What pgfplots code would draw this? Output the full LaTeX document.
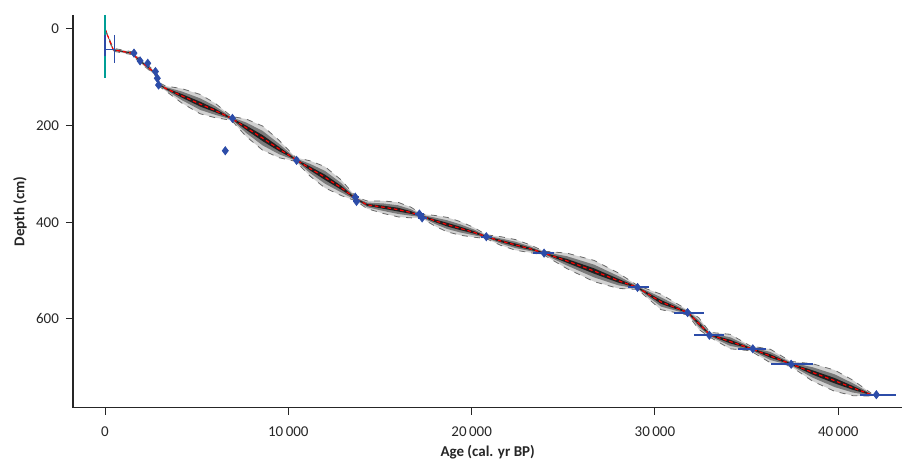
\documentclass[border=0pt]{standalone}
\usepackage{fontspec}
\setmainfont{Carlito}
\usepackage{pgfplots}
\pgfplotsset{compat=1.18}
\usepackage{pgfplotstable}
\usepgfplotslibrary{fillbetween}

\definecolor{datblue}{RGB}{44,76,168}
\definecolor{tealline}{RGB}{0,158,150}
\definecolor{bandgray}{RGB}{105,105,105}

% age-depth model: median depth and outer/mid/inner envelope (cm)
\pgfplotstableread{
age   d     olo    ohi    mlo    mhi    ilo    ihi
0     0     -1     1      -0.6   0.6    -0.3   0.3
450   43    40     46     41.2   44.8   42.2   43.8
1460  50    47     53     48.2   51.8   49.2   50.8
1910  66    62     70     63.6   68.4   65     67
2370  80    76     84     77.6   82.4   79     81
2820  95    91     99     92.6   97.4   94     96
3000  116   112    120    113.6  118.4  115    117
3300  123   118    128    120    126    121.8  124.2
4200  138.5 123.5  153.5  129.5  147.5  134.8  142.2
5190  155.5 135.5  175.5  143.5  167.5  150.5  160.5
6000  168.5 153.5  183.5  159.5  177.5  164.8  172.2
6900  185   181    189    182.6  187.4  184    186
7700  204.4 186.4  222.4  193.6  215.2  199.9  208.9
8600  226   201    251    211    241    219.8  232.2
9500  248.5 230.5  266.5  237.7  259.3  244    253
10400 270   266    274    267.6  272.4  269    271
11200 289   273    305    279.4  298.6  285    293
12000 307   285    329    293.8  320.2  301.5  312.5
12900 329   313    345    319.4  338.6  325    333
13700 352   348    356    349.6  354.4  351    353
14300 364   356    372    359.2  368.8  362    366
15200 369   356    382    361.2  376.8  365.8  372.2
16000 374   359    389    365    383    370.2  377.8
16700 380   369    391    373.4  386.6  377.2  382.8
17250 387   383    391    384.6  389.4  386    388
18000 397   386    408    390.4  403.6  394.2  399.8
18670 405   390    420    396    414    401.2  408.8
19400 413   399    427    404.6  421.4  409.5  416.5
20130 421   411    431    415    427    418.5  423.5
20800 430   426    434    427.6  432.4  429    431
21600 439   430    448    433.6  444.4  436.8  441.2
22400 447   436    458    440.4  453.6  444.2  449.8
23200 455   447    463    450.2  459.8  453    457
23950 464   460    468    461.6  466.4  463    465
25200 480   464    496    470.4  489.6  476    484
26680 501   479    523    487.8  514.2  495.5  506.5
28000 521   505    537    511.4  530.6  517    525
29050 535   531    539    532.6  537.4  534    536
30330 565   549    581    555.4  574.6  561    569
31800 587   582    592    584    590    585.8  588.2
32400 610   598    622    602.8  617.2  607    613
33000 633   628    638    630    636    631.8  634.2
34100 647   632    662    638    656    643.2  650.8
35200 661   656    666    658    664    659.8  662.2
36300 677   663    691    668.6  685.4  673.5  680.5
37400 693   688    698    690    696    691.8  694.2
38600 711   693    729    700.2  721.8  706.5  715.5
39800 728   706    750    714.8  741.2  722.5  733.5
40800 743   727    759    733.4  752.6  739    747
41800 757   754    760    755.2  758.8  756.2  757.8
}\band

% dated levels: age, depth, age errors, depth errors
\pgfplotstableread{
age   d    xm    xp    ym  yp
1580  50   60    60    4   6
1910  66   60    60    5   5
2330  71   60    60    5   5
2750  88   60    60    6   6
2850  102  50    50    6   6
2920  116  50    50    6   6
6950  185  150   150   2   2
6560  252  150   150   0   0
10450 272  150   150   2   2
13650 348  200   200   3   3
13720 357  200   200   3   3
17150 383  250   250   2   2
17300 391  250   250   2   2
20800 430  300   300   1   1
23950 464  580   530   1   1
29050 535  540   640   1   1
31780 587  740   900   1   1
32970 634  840   800   1   1
35340 662  820   730   1   1
37430 694  1090  1190  1   1
42080 757  920   1090  1   1
}\dates

\begin{document}
\begin{tikzpicture}
\begin{axis}[
  scale only axis,
  width=415pt, height=196.5pt,
  xmin=-1750, xmax=43500,
  ymin=-29, ymax=784,
  y dir=reverse,
  axis x line=bottom, axis y line=left,
  axis line style={-, line width=0.6pt, black!85},
  tick align=outside,
  major tick length=3.5pt,
  tick style={line width=0.5pt, black!85},
  xtick={0,10000,20000,30000,40000},
  ytick={0,200,400,600},
  scaled x ticks=false,
  /pgf/number format/assume math mode=true,
  /pgf/number format/1000 sep={\,},
  tick label style={font=\fontsize{7.5}{8}\selectfont, text=black!85},
  xticklabel style={yshift=-2.5pt},
  label style={font=\fontsize{7.5}{8}\selectfont\bfseries, text=black!85},
  xlabel={Age (cal. yr BP)},
  ylabel={Depth (cm)},
  xlabel style={at={(axis description cs:0.5,-0.1145)}, anchor=center},
  ylabel style={at={(axis description cs:-0.0639,0.5)}, anchor=center},
]
  % envelope
  \addplot[bandgray, dashed, line width=0.4pt, name path=olo] table[x=age, y=olo]{\band};
  \addplot[bandgray, dashed, line width=0.4pt, name path=ohi] table[x=age, y=ohi]{\band};
  \addplot[draw=none, name path=mlo] table[x=age, y=mlo]{\band};
  \addplot[draw=none, name path=mhi] table[x=age, y=mhi]{\band};
  \addplot[draw=none, name path=ilo] table[x=age, y=ilo]{\band};
  \addplot[draw=none, name path=ihi] table[x=age, y=ihi]{\band};
  \addplot[black!18] fill between[of=olo and ohi];
  \addplot[black!52] fill between[of=mlo and mhi];
  \addplot[black!88] fill between[of=ilo and ihi];
  % median
  \addplot[red, line width=0.6pt, dash pattern=on 1.8pt off 1.4pt] table[x=age, y=d]{\band};
  % surface
  \addplot[tealline, line width=0.8pt] coordinates {(0,-29) (0,102)};
  \addplot[datblue, line width=0.7pt] coordinates {(0,12) (0,55)};
  \addplot[datblue, line width=0.7pt] coordinates {(0,42) (520,42)};
  \addplot[datblue, line width=0.7pt] coordinates {(520,12) (520,70)};
  % dates
  \addplot[only marks, mark=diamond*, mark size=2pt, datblue,
    error bars/.cd, x dir=both, x explicit, y dir=both, y explicit,
    error mark=none, error bar style={line width=1pt, draw=datblue}]
    table[x=age, y=d, x error minus=xm, x error plus=xp,
          y error minus=ym, y error plus=yp]{\dates};
\end{axis}
\path (current axis.south west) ++(-36.5pt,-28pt) coordinate (bl);
\path (current axis.north east) ++(0pt,7.5pt) coordinate (tr);
\path (bl) rectangle (tr);
\end{tikzpicture}
\end{document}
